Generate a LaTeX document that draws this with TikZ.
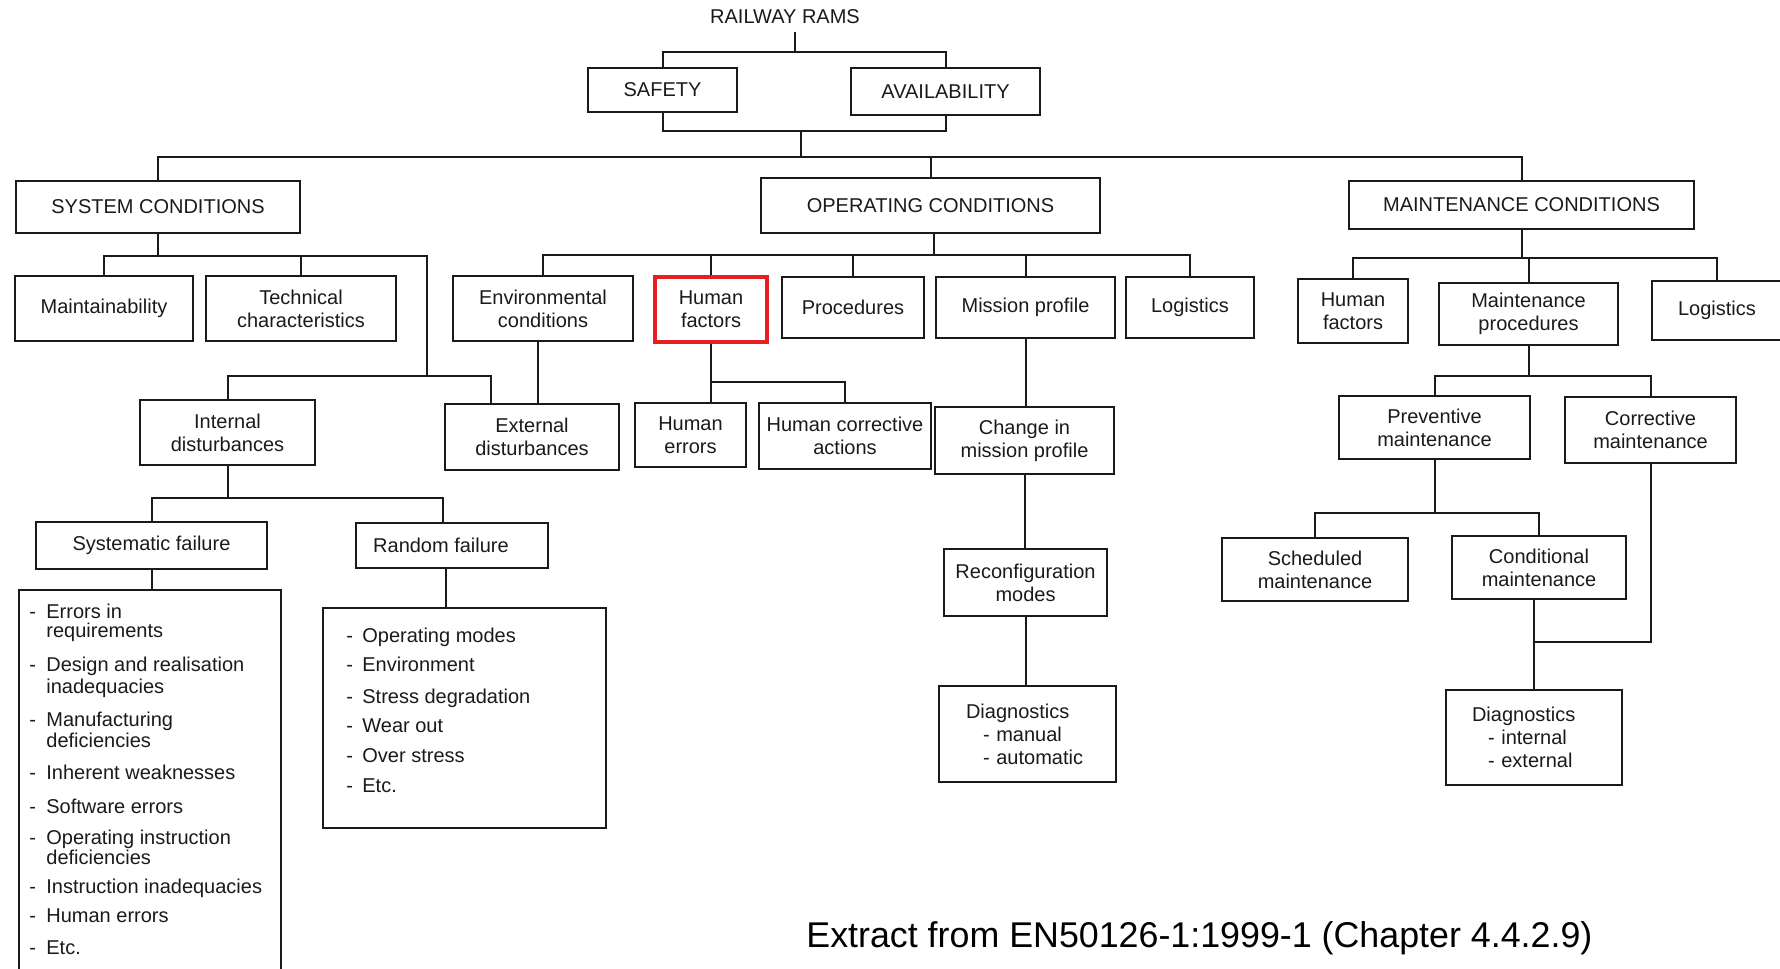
\documentclass[tikz,border=0pt]{standalone}
\usepackage{fontspec}
\setmainfont{Liberation Sans}
\definecolor{hotred}{RGB}{232,30,36}
\definecolor{ink}{RGB}{26,26,26}
\begin{document}
\begin{tikzpicture}[x=0.5pt, y=-0.5pt,
  box/.style={draw=ink, line width=1pt, inner sep=0pt, align=center,
              font=\fontsize{10}{11.5}\selectfont, text=ink},
  hot/.style={box, draw=hotred, line width=1.6pt},
  wire/.style={draw=ink, line width=1pt},
  item/.style={anchor=base west, inner sep=0pt,
               font=\fontsize{10}{12}\selectfont, text=ink},
]
\useasboundingbox (0,0) rectangle (1780,968);
\clip (0,0) rectangle (1780,968);

% ---------- top of the tree ----------
\node[inner sep=0pt, font=\fontsize{10}{12}\selectfont, text=ink] (rams) at (785,17) {RAILWAY RAMS};
\node[box, minimum width=74.5pt, minimum height=22pt]   (safety) at (662.5,90)   {SAFETY};
\node[box, minimum width=94.5pt, minimum height=23.5pt] (avail)  at (945.5,91.5) {AVAILABILITY};

\node[box, minimum width=142pt,  minimum height=26pt]   (sys)   at (158,207)     {SYSTEM CONDITIONS};
\node[box, minimum width=169.5pt,minimum height=27.5pt] (oper)  at (930.5,205.5) {OPERATING CONDITIONS};
\node[box, minimum width=172.5pt,minimum height=24pt]   (mcond) at (1521.5,205)  {MAINTENANCE CONDITIONS};

% ---------- second level ----------
\node[box, minimum width=89pt,   minimum height=32.5pt] (maint)   at (104,308.5)    {Maintainability};
\node[box, minimum width=95pt,   minimum height=32.5pt] (tech)    at (301,308.5)    {Technical\\characteristics};
\node[box, minimum width=90pt,   minimum height=32.5pt] (env)     at (543,308.5)    {Environmental\\conditions};
\node[hot, minimum width=56pt,   minimum height=32.5pt] (hf)      at (711,309.5)    {Human\\factors};
\node[box, minimum width=71pt,   minimum height=30.5pt] (proc)    at (853,307.5)    {Procedures};
\node[box, minimum width=89.5pt, minimum height=30.5pt] (mission) at (1025.5,307.5) {Mission profile};
\node[box, minimum width=64pt,   minimum height=30.5pt] (logi)    at (1190,307.5)   {Logistics};
\node[box, minimum width=55pt,   minimum height=32pt]   (hf2)     at (1353,311)     {Human\\factors};
\node[box, minimum width=89.5pt, minimum height=31pt]   (mproc)   at (1528.5,314)   {Maintenance\\procedures};
\node[box, minimum width=65pt,   minimum height=29.5pt] (logi2)   at (1717,310.5)   {Logistics};

% ---------- third level ----------
\node[box, minimum width=87.5pt, minimum height=32.5pt] (intd)   at (227.5,432.5)  {Internal\\disturbances};
\node[box, minimum width=87pt,   minimum height=33pt]   (extd)   at (532,437)      {External\\disturbances};
\node[box, minimum width=55.5pt, minimum height=32pt]   (he)     at (690.5,435)    {Human\\errors};
\node[box, minimum width=86pt,   minimum height=33pt]   (hca)    at (845,436)      {Human corrective\\actions};
\node[box, minimum width=89.5pt, minimum height=33.5pt] (change) at (1024.5,440.5) {Change in\\mission profile};
\node[box, minimum width=95.5pt, minimum height=31.5pt] (prev)   at (1434.5,427.5) {Preventive\\maintenance};
\node[box, minimum width=85.5pt, minimum height=33pt]   (corr)   at (1650.5,430)   {Corrective\\maintenance};

% ---------- fourth level ----------
\node[box, minimum width=115.5pt,minimum height=23.5pt] (sysf)   at (151.5,545.5)  {Systematic failure};
\node[box, minimum width=96pt,   minimum height=22.5pt] (randf)  at (452,545.5)    {Random failure\hspace*{11pt}};
\node[box, minimum width=81.5pt, minimum height=33.5pt] (reconf) at (1025.5,582.5) {Reconfiguration\\modes};
\node[box, minimum width=93pt,   minimum height=31.5pt] (sched)  at (1315,569.5)   {Scheduled\\maintenance};
\node[box, minimum width=87pt,   minimum height=31.5pt] (condm)  at (1539,567.5)   {Conditional\\maintenance};

% ---------- lists and diagnostics ----------
\node[box, minimum width=131pt,  minimum height=200pt]  (sysl)  at (150,790)   {};
\node[box, minimum width=141.5pt,minimum height=110pt]  (randl) at (464.5,718) {};
\node[box, align=left, inner xsep=13.5pt, text width=61.5pt, minimum height=48pt] (diag1) at (1027.5,734)
  {Diagnostics\\\hspace*{8.5pt}- manual\\\hspace*{8.5pt}- automatic};
\node[box, align=left, inner xsep=13pt, text width=62pt, minimum height=47.5pt] (diag2) at (1534,737.5)
  {Diagnostics\\\hspace*{8pt}- internal\\\hspace*{8pt}- external};

\foreach \yy/\dsh/\txt [count=\i] in {
  612/-/Errors in, 631//requirements,
  665/-/Design and realisation, 687//inadequacies,
  720/-/Manufacturing, 741//deficiencies,
  773/-/Inherent weaknesses, 807/-/Software errors,
  838/-/Operating instruction, 858//deficiencies,
  887/-/Instruction inadequacies, 916/-/Human errors, 948/-/Etc.}
  \node[item] (sysl\i) at (29,\yy+6) {\makebox[8.5pt][l]{\dsh}\txt};

\foreach \yy/\txt [count=\i] in {
  636/Operating modes, 665/Environment, 697/Stress degradation,
  726/Wear out, 756/Over stress, 786/Etc.}
  \node[item] (randl\i) at (346,\yy+6) {\makebox[8pt][l]{-}\txt};

\node[anchor=base west, inner sep=0pt, font=\fontsize{17.9}{20}\selectfont, text=black] (src)
  at (806,947) {Extract from EN50126-1:1999-1 (Chapter 4.4.2.9)};

% ---------- connectors ----------
\coordinate (topj) at (795,52);
\coordinate (midj) at (801,131);
\coordinate (tb)   at (801,157);
\draw[wire] (rams.south -| topj) ++(0,8) -- (topj);
\draw[wire] (safety.north) |- (topj) -| (avail.north);
\draw[wire] (safety.south) |- (midj) -| (avail.south);
\draw[wire] (midj) -- (tb);
\draw[wire] (sys.north) |- (tb) -| (mcond.north);
\draw[wire] (oper.north) -- (oper.north |- tb);

% system conditions
\draw[wire] (sys.south) -- (sys.south |- 0,256);
\draw[wire] (maint.north) |- (427,256) -- (427,376) -| (extd.north -| 491,0);
\draw[wire] (tech.north) -- (tech.north |- 0,256);
\draw[wire] (intd.north) |- (427,376);
\draw[wire] (env.south -| 538,0) -- (extd.north -| 538,0);

% operating conditions
\draw[wire] (oper.south -| 934,0) -- (934,255);
\draw[wire] (env.north) |- (logi.north |- 0,255) -- (logi.north);
\foreach \n in {hf,proc,mission} \draw[wire] (\n.north) -- (\n.north |- 0,255);

% maintenance conditions
\draw[wire] (mcond.south) -- (mcond.south |- 0,258);
\draw[wire] (hf2.north) |- (logi2.north |- 0,258) -- (logi2.north);
\draw[wire] (mproc.north) -- (mproc.north |- 0,258);

% human factors
\draw[wire] (hf.south) |- (hca.north |- 0,382) -- (hca.north);
\draw[wire] (he.north -| hf.south) -- (hf.south |- 0,382);

% mission profile chain
\draw[wire] (mission.south) -- (mission.south |- change.north);
\draw[wire] (change.south) -- (change.south |- reconf.north);
\draw[wire] (reconf.south) -- (reconf.south |- diag1.north);

% disturbances and failures
\draw[wire] (intd.south) -- (intd.south |- 0,498);
\draw[wire] (sysf.north) |- (443,498) -- (randf.north -| 443,0);
\draw[wire] (sysf.south) -- (sysf.south |- sysl.north);
\draw[wire] (randf.south -| 446,0) -- (randl.north -| 446,0);

% maintenance procedures
\draw[wire] (mproc.south) -- (mproc.south |- 0,376);
\draw[wire] (prev.north) |- (corr.north |- 0,376) -- (corr.north);
\draw[wire] (prev.south) -- (prev.south |- 0,513);
\draw[wire] (sched.north) |- (condm.north |- 0,513) -- (condm.north);
\draw[wire] (corr.south) |- (diag2.north |- 0,642);
\draw[wire] (condm.south -| diag2.north) -- (diag2.north);
\end{tikzpicture}
\end{document}
